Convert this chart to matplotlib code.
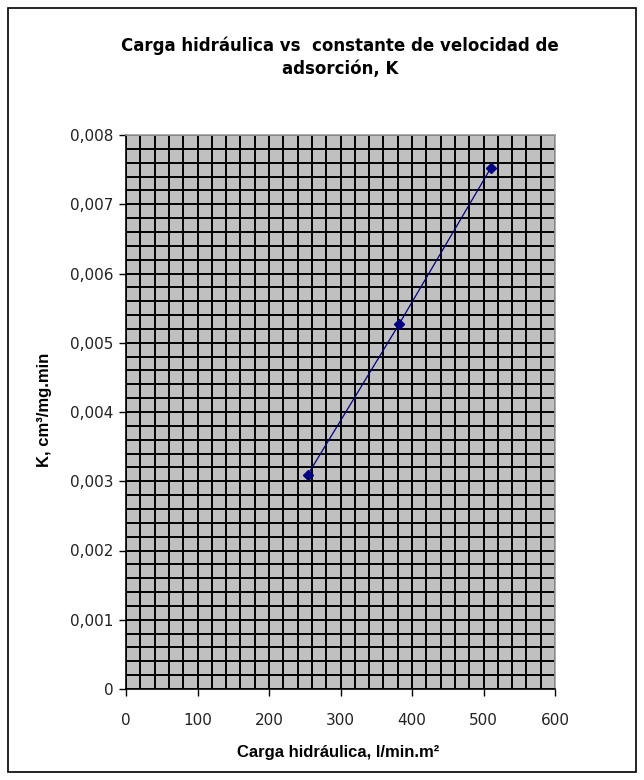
import numpy as np
import matplotlib
matplotlib.use("Agg")
import matplotlib.pyplot as plt
from matplotlib.patches import Rectangle
from matplotlib.ticker import MultipleLocator, FuncFormatter

# data
carga = [254, 382, 510]
k_vals = [0.00309, 0.00527, 0.00752]

title = "Carga hidráulica vs  constante de velocidad de\nadsorción, K"
xlabel = "Carga hidráulica, l/min.m²"
ylabel = "K, cm³/mg.min"

plt.rcParams['font.family'] = ['Liberation Sans', 'DejaVu Sans']

W, H = 644, 780
fig = plt.figure(figsize=(W / 100, H / 100), dpi=100)
fig.patch.set_facecolor("white")

# outer chart border
fig.patches.append(Rectangle((8 / W, 8 / H), 628 / W, 764 / H, transform=fig.transFigure,
                             fill=False, edgecolor="black", linewidth=1.2))

# plot area (pixels: left 126, right 555, top 135, bottom 689)
ax = fig.add_axes([126 / W, 1 - 689 / H, (555 - 126) / W, (689 - 135) / H])
ax.set_facecolor("#c0c0c0")

ax.plot(carga, k_vals, color="#000080", linewidth=0.9, marker="D", markersize=5.5,
        markerfacecolor="#000080", markeredgecolor="#000080", zorder=5)

ax.set_xlim(0, 600)
ax.set_ylim(0, 0.008)
ax.xaxis.set_major_locator(MultipleLocator(100))
ax.xaxis.set_minor_locator(MultipleLocator(20))
ax.yaxis.set_major_locator(MultipleLocator(0.001))
ax.yaxis.set_minor_locator(MultipleLocator(0.0002))


def fmt_y(v, pos):
    if abs(v) < 1e-12:
        return "0"
    return f"{v:.3f}".replace(".", ",")


ax.yaxis.set_major_formatter(FuncFormatter(fmt_y))
ax.xaxis.set_major_formatter(FuncFormatter(lambda v, p: f"{v:.0f}"))

ax.grid(which="both", color="black", linewidth=1.4)
ax.set_axisbelow(True)

ax.tick_params(which="major", direction="out", length=5, width=1, color="black",
               labelsize=11, labelcolor="#222222", pad=4)
for lab in ax.get_xticklabels() + ax.get_yticklabels():
    lab.set_family("DejaVu Sans")
ax.tick_params(which="minor", length=0)
ax.tick_params(axis="x", pad=12)

for s in ["left", "bottom"]:
    ax.spines[s].set_color("black")
    ax.spines[s].set_linewidth(1.2)
for s in ["top", "right"]:
    ax.spines[s].set_color("#a0a0a0")
    ax.spines[s].set_linewidth(1.2)

fig.text(340 / W, 1 - 57 / H, title, ha="center", va="center", fontsize=12,
         fontweight="bold", family="DejaVu Sans", linespacing=1.35)
fig.text(338 / W, 1 - 752 / H, xlabel, ha="center", va="center", fontsize=12,
         fontweight="bold")
fig.text(44 / W, 1 - 410 / H, ylabel, ha="center", va="center", fontsize=12,
         fontweight="bold", rotation=90)

fig.savefig("out.png", dpi=100)
